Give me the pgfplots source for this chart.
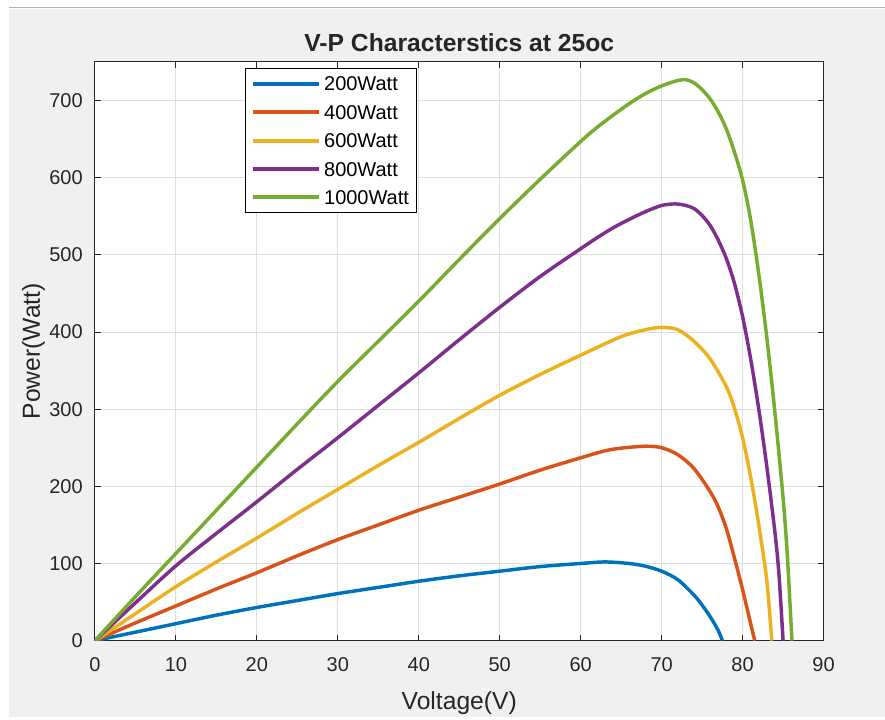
\documentclass[border=0pt]{standalone}
\usepackage{pgfplots}
\pgfplotsset{compat=1.18}
\usepackage{fontspec}
\setmainfont{Liberation Sans}
\definecolor{mblue}{rgb}{0,0.447,0.741}
\definecolor{morange}{rgb}{0.85,0.325,0.098}
\definecolor{myellow}{rgb}{0.929,0.694,0.125}
\definecolor{mpurple}{rgb}{0.494,0.184,0.556}
\definecolor{mgreen}{rgb}{0.466,0.674,0.188}
\definecolor{figbg}{HTML}{F0F0F0}
\definecolor{axc}{HTML}{262626}
\definecolor{gridc}{HTML}{DEDEDE}
\begin{document}
\begin{tikzpicture}
\fill[white] (0pt,0pt) rectangle (663.75pt,539.25pt);
\fill[figbg] (6.75pt,1.5pt) rectangle (663.75pt,532.5pt);
\draw[gray!60, line width=0.75pt] (6.75pt,533.25pt) -- (663.75pt,533.25pt);
\begin{axis}[
  at={(71.25pt,58.5pt)}, anchor=south west,
  scale only axis, width=546.75pt, height=434.25pt,
  xmin=0, xmax=90, ymin=0, ymax=750,
  xtick={0,10,...,90}, ytick={0,100,...,700},
  axis background/.style={fill=white},
  axis line style={axc, line width=0.75pt},
  tick align=inside, tick pos=both, major tick length=4.5pt,
  every tick/.style={axc, line width=0.75pt},
  grid=major, major grid style={gridc, line width=0.75pt},
  /pgf/number format/assume math mode=true,
  ticklabel style={font=\fontsize{15}{18}\selectfont, text=axc},
  xticklabel style={anchor=north, inner sep=0pt, yshift=-12.75pt},
  yticklabel style={anchor=east, inner sep=0pt, xshift=-9pt},
  title={V-P Characterstics at 25oc},
  title style={font=\bfseries\fontsize{18.5}{22}\selectfont, text=axc, at={(0.5,1)}, anchor=base, yshift=1.5pt},
  xlabel={Voltage(V)},
  xlabel style={font=\fontsize{18.5}{22}\selectfont, text=axc, at={(axis description cs:0.5,0)}, anchor=base, yshift=-51.75pt},
  ylabel={Power(Watt)},
  ylabel style={font=\fontsize{18.5}{22}\selectfont, text=axc, at={(axis description cs:-0.0755,0.5)}, anchor=base},
  legend cell align=left,
  legend image code/.code={\draw[#1, line width=3pt] (0pt,0pt) -- (50pt,0pt);},
  legend style={at={(0.206,0.99)}, anchor=north west, draw=black, line width=0.75pt, fill=white,
    font=\fontsize{15}{18}\selectfont, inner xsep=4pt, inner ysep=1pt,
    nodes={text height=10.7pt, text depth=0pt, inner ysep=5.3pt, inner xsep=2pt}},
  every axis plot/.append style={line width=2.6pt, smooth, tension=0.5},
]
\addplot[mblue] coordinates {(0,0) (5,11) (10,22) (15,33) (20,43) (25,52) (30,61) (35,69) (40,77) (45,84) (50,90) (55,96) (60,100) (63,102) (66,100) (68,96.5) (70,90) (72,79) (74,59) (75,46) (76,31) (77,13) (77.5,0)};
\addlegendentry{200Watt}
\addplot[morange] coordinates {(0,0) (5,23) (10,45) (15,67) (20,88) (25,110) (30,131) (35,150) (40,169) (45,186) (50,203) (55,221) (60,237) (63,246) (65,249.5) (68,252) (70,250) (72,241) (74,223) (76,193) (77,173) (78,145) (79,107) (80,66) (81,22) (81.5,0)};
\addlegendentry{400Watt}
\addplot[myellow] coordinates {(0,0) (5,35) (10,70) (15,102) (20,133) (25,165) (30,196) (35,227) (40,257) (45,288) (50,318) (55,345) (60,370) (65,394) (68,403) (70,406) (72,403) (74,388) (76,365) (78,329) (79,301) (80,263) (81,212) (82,150) (83,77) (83.6,0)};
\addlegendentry{600Watt}
\addplot[mpurple] coordinates {(0,0) (5,49) (10,97) (15,139) (20,180) (25,222) (30,263) (35,305) (40,347) (45,390) (50,432) (55,472) (60,508) (62,522) (64,535) (66,546) (68,556) (70,564) (71.7,566) (73,564) (74,560) (75,551) (76,538) (77,519) (78,495) (79,463) (80,420) (81,365) (82,300) (83,225) (84,140) (84.5,85) (85,0)};
\addlegendentry{800Watt}
\addplot[mgreen] coordinates {(0,0) (5,57) (10,113) (15,169) (20,225) (25,281) (30,336) (35,388) (40,440) (45,494) (50,547) (55,598) (60,647) (62,665) (64,681) (66,696) (68,709) (70,719) (72,726) (73,727) (74,723) (75,714) (76,702) (77,685) (78,663) (79,633) (80,597) (81,545) (82,475) (83,392) (84,295) (85,185) (85.5,115) (86,20) (86.1,0)};
\addlegendentry{1000Watt}
\end{axis}
\end{tikzpicture}
\end{document}
